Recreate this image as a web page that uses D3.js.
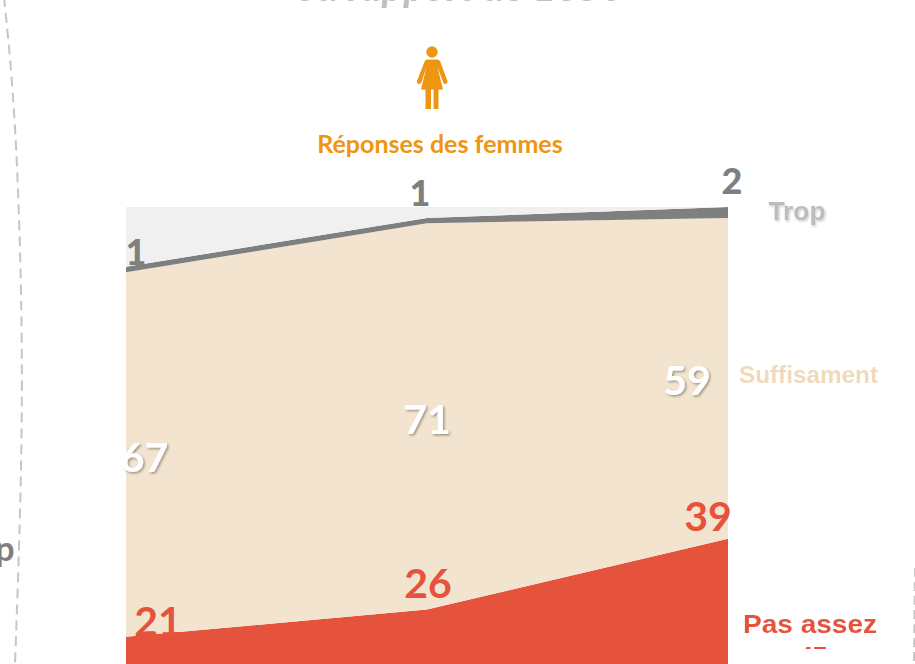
<!DOCTYPE html>
<html><head><meta charset="utf-8">
<script src="https://cdn.jsdelivr.net/npm/d3@7"></script>
<style>html,body{margin:0;padding:0;background:#fff;overflow:hidden}svg{display:block}</style>
</head><body><svg id="c" width="915" height="664"></svg>
<script>
const periods = ["A","B","C"];
const pasAssez = [21,26,39];
const suffisament = [67,71,59];
const trop = [1,1,2];
const restant = [11,2,0];
const seriesKeys = ["Pas assez","Suffisament","Trop","Reste"];
const seriesColors = ["#e5533d","#f2e4ce","#7f7f7f","#f0f0f0"];

const svg = d3.select("#c");
const defs = svg.append("defs");
const f1 = defs.append("filter").attr("id","sh").attr("x","-20%").attr("y","-20%").attr("width","150%").attr("height","150%");
f1.append("feDropShadow").attr("dx",1.5).attr("dy",1.5).attr("stdDeviation",1).attr("flood-color","#000").attr("flood-opacity",.35);
const f2 = defs.append("filter").attr("id","blur");
f2.append("feGaussianBlur").attr("stdDeviation",.6);
const f3 = defs.append("filter").attr("id","tropsh").attr("x","-20%").attr("y","-20%").attr("width","150%").attr("height","150%");
f3.append("feGaussianBlur").attr("stdDeviation",.6).attr("result","b");
f3.append("feDropShadow").attr("in","b").attr("dx",1).attr("dy",1.5).attr("stdDeviation",1).attr("flood-color","#000").attr("flood-opacity",.2);
defs.append("clipPath").attr("id","cut47").append("rect").attr("x",780).attr("y",640).attr("width",80).attr("height",9);

const x = d3.scalePoint().domain(periods).range([126,728]);
const y = d3.scaleLinear().domain([0,100]).range([751,207]);
const rows = periods.map((p,i)=>({p,"Pas assez":pasAssez[i],"Suffisament":suffisament[i],"Trop":trop[i],"Reste":restant[i]}));
const stacked = d3.stack().keys(seriesKeys)(rows);
const area = d3.area().x(d=>x(d.data.p)).y0(d=>y(d[0])).y1(d=>y(d[1]));
svg.append("g").selectAll("path").data(stacked).join("path")
  .attr("d",area).attr("fill",(d,i)=>seriesColors[i]);

const font = "Lato, 'Open Sans', sans-serif";
function label(t,px,py,size,fill,opts={}){
  const s = svg.append("text").text(t).attr("x",px).attr("y",py).attr("text-anchor",opts.anchor||"middle")
    .attr("font-family",opts.family||font).attr("font-weight",opts.weight||700).attr("font-size",size).attr("fill",fill)
    .attr("filter",opts.filter||null);
  if(opts.width) s.attr("textLength",opts.width).attr("lengthAdjust","spacingAndGlyphs");
  return s;
}
// values
label(trop[0],136,265,36,"#7f7f7f",{weight:900});
label(trop[1],420,206,36,"#7f7f7f",{weight:900});
label(trop[2],732,194,36,"#7f7f7f",{weight:900});
[[144.5,472],[427,434],[687,395]].forEach((p,i)=>label(suffisament[i],p[0],p[1],41,"#fff",{filter:"url(#sh)"}));
[[158,636],[428,598],[708,531]].forEach((p,i)=>label(pasAssez[i],p[0],p[1],41,"#e5533d"));

// series names
const lib = "Liberation Sans, Arial, sans-serif";
label("Trop",797,220,26,"#bdbdbd",{family:lib,filter:"url(#tropsh)",width:57});
label("Suffisament",808.5,383,23,"#efdabb",{family:lib,filter:"url(#blur)",width:139});
label("Pas assez",810,633,25,"#e5533d",{family:lib,filter:"url(#blur)",width:134});
label("47",813,665,25,"#e5533d",{family:lib,filter:"url(#blur)"}).attr("clip-path","url(#cut47)");

// head
label("Réponses des femmes",440,153,25,"#ee9511");
label("ou rapport de 1650",460,0.5,40,"#bfbfbf").attr("font-style","italic");
label("p",5,561,34,"#7f7f7f");

// woman icon
const g = svg.append("g").attr("fill","#ee9511");
g.append("circle").attr("cx",432).attr("cy",52).attr("r",5.7);
g.append("path").attr("d","M425,60.5 Q426,59.5 428,59.5 L437,59.5 Q439,59.5 440,61 L447.5,81 Q447.5,84 445,84 Q443.5,84 443,82 L437.5,67 L443,89.5 L438.5,89.5 L438.5,109 L433.6,109 L433.6,89.5 L431,89.5 L431,109 L425.5,109 L425.5,89.5 L421,89.5 L426.5,67 L421.5,82 Q421,84 419,84 Q416.5,84 417,81 Z");

// dashed arcs
const arc = d3.line().curve(d3.curveBasis);
svg.append("path").attr("d",arc([[4,-3],[16,115],[23,330],[21,500],[15,664]]))
  .attr("fill","none").attr("stroke","#c6c6c6").attr("stroke-width",2).attr("stroke-dasharray","10 6");
svg.append("path").attr("d",arc([[915,568],[914.5,610],[914,664]]))
  .attr("fill","none").attr("stroke","#c6c6c6").attr("stroke-width",2).attr("stroke-dasharray","9 5");
</script></body></html>
